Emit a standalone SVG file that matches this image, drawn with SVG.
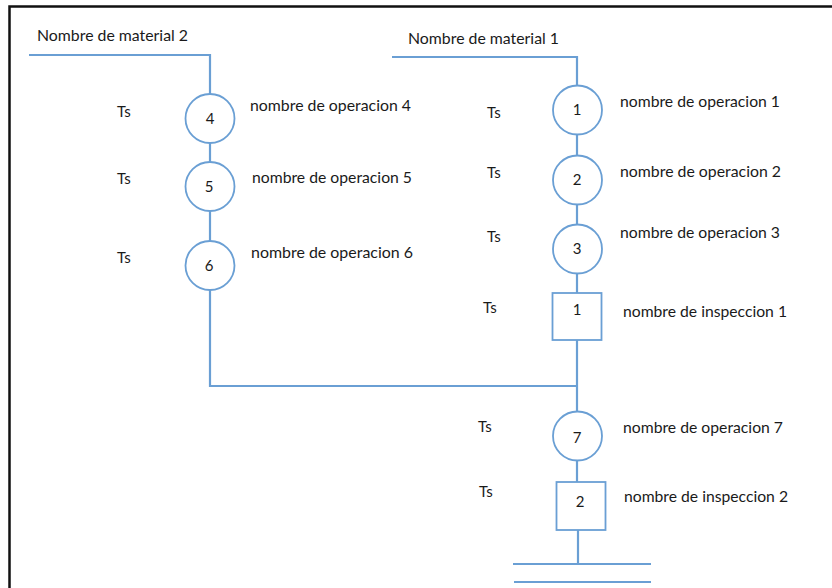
<svg xmlns="http://www.w3.org/2000/svg" width="832" height="588" viewBox="0 0 832 588">
<style>
.ln{fill:none;stroke:#6a9fd4;stroke-width:2.2}
.nd{fill:#fff;stroke:#6a9fd4;stroke-width:1.8}
.t{font-family:Lato,"Liberation Sans",Arial,sans-serif;font-size:15px;fill:#1a1a1a}
.n{font-family:Lato,"Liberation Sans",Arial,sans-serif;font-size:15px;fill:#1a1a1a;text-anchor:middle}
</style>
<rect width="832" height="588" fill="#fff"/>
<path d="M9.5,588 V6.5 H832" fill="none" stroke="#111" stroke-width="2.5"/>
<g id="connectors">
<path class="ln" d="M29,55 H210 V94"/>
<path class="ln" d="M210,143 V162"/>
<path class="ln" d="M210,211 V241"/>
<path class="ln" d="M210,290 V386 H577"/>
<path class="ln" d="M392,57 H577 V85"/>
<path class="ln" d="M577,135 V155"/>
<path class="ln" d="M577,205 V224"/>
<path class="ln" d="M577,274 V293"/>
<path class="ln" d="M577,340 V411"/>
<path class="ln" d="M577,461 V482"/>
<path class="ln" d="M578,530 V564"/>
<path class="ln" d="M513,564 H651"/>
<path class="ln" d="M514,582 H651"/>
</g>
<g id="material2"><text class="t" x="37" y="41" textLength="151" lengthAdjust="spacingAndGlyphs">Nombre de material 2</text></g>
<g id="material1"><text class="t" x="408" y="44" textLength="151" lengthAdjust="spacingAndGlyphs">Nombre de material 1</text></g>
<g id="op4"><circle class="nd" cx="210" cy="118.5" r="24.5"/><text class="n" x="210" y="124">4</text>
<text class="t" x="117" y="117">Ts</text><text class="t" x="250" y="111" textLength="161" lengthAdjust="spacingAndGlyphs">nombre de operacion 4</text></g>
<g id="op5"><circle class="nd" cx="210" cy="186.5" r="24.5"/><text class="n" x="209" y="192">5</text>
<text class="t" x="117" y="184">Ts</text><text class="t" x="252" y="183" textLength="160" lengthAdjust="spacingAndGlyphs">nombre de operacion 5</text></g>
<g id="op6"><circle class="nd" cx="210" cy="265.5" r="24.5"/><text class="n" x="209" y="271">6</text>
<text class="t" x="117" y="263">Ts</text><text class="t" x="251" y="258" textLength="162" lengthAdjust="spacingAndGlyphs">nombre de operacion 6</text></g>
<g id="op1"><circle class="nd" cx="577.5" cy="110" r="24.5"/><text class="n" x="577" y="115">1</text>
<text class="t" x="487" y="118">Ts</text><text class="t" x="620" y="107" textLength="160" lengthAdjust="spacingAndGlyphs">nombre de operacion 1</text></g>
<g id="op2"><circle class="nd" cx="577.5" cy="180" r="24.5"/><text class="n" x="577" y="185">2</text>
<text class="t" x="487" y="178">Ts</text><text class="t" x="620" y="177" textLength="161" lengthAdjust="spacingAndGlyphs">nombre de operacion 2</text></g>
<g id="op3"><circle class="nd" cx="577.5" cy="249" r="24.5"/><text class="n" x="577" y="254">3</text>
<text class="t" x="487" y="242">Ts</text><text class="t" x="620" y="238" textLength="160" lengthAdjust="spacingAndGlyphs">nombre de operacion 3</text></g>
<g id="insp1"><rect class="nd" x="552.5" y="293" width="49" height="47"/><text class="n" x="577" y="315">1</text>
<text class="t" x="483" y="313">Ts</text><text class="t" x="623" y="317" textLength="164" lengthAdjust="spacingAndGlyphs">nombre de inspeccion 1</text></g>
<g id="op7"><circle class="nd" cx="577.5" cy="436" r="24.5"/><text class="n" x="577" y="443">7</text>
<text class="t" x="478" y="432">Ts</text><text class="t" x="623" y="433" textLength="160" lengthAdjust="spacingAndGlyphs">nombre de operacion 7</text></g>
<g id="insp2"><rect class="nd" x="556.5" y="482" width="49" height="48"/><text class="n" x="580" y="507">2</text>
<text class="t" x="479" y="497">Ts</text><text class="t" x="624" y="502" textLength="164" lengthAdjust="spacingAndGlyphs">nombre de inspeccion 2</text></g>
</svg>
